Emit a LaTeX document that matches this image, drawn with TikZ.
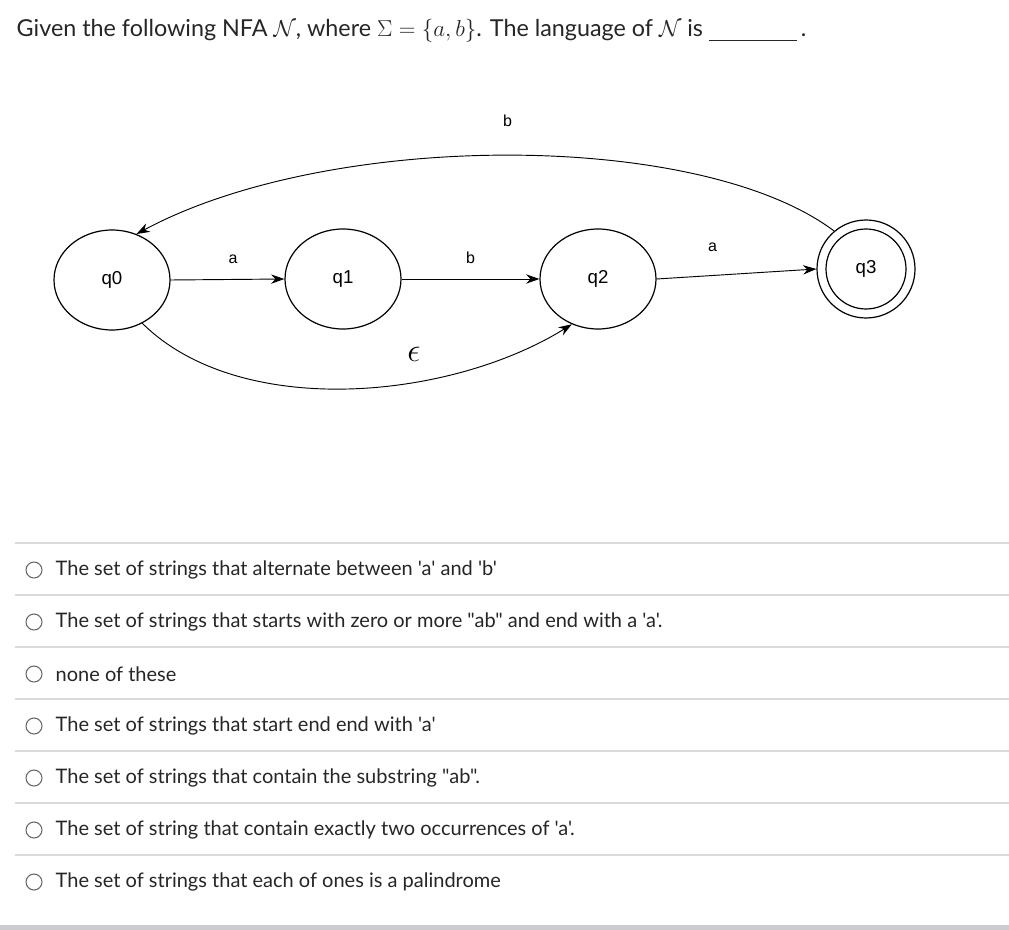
\documentclass[tikz,border=0pt]{standalone}
\usepackage{fontspec}
\setmainfont{Lato}[Ligatures=TeXOff]
\newfontfamily\diag{Liberation Sans}
\usetikzlibrary{arrows.meta,shapes.geometric}
\begin{document}
\begin{tikzpicture}[x=0.75pt,y=-0.75pt,
  st/.style={draw,ellipse,line width=0.9pt,minimum width=87pt,minimum height=75pt,font=\diag\fontsize{14}{16}\selectfont},
  sty/.style={draw,circle,line width=0.9pt,inner sep=0pt,minimum size=#1},
  tr/.style={line width=0.7pt,-{Stealth[length=10pt,width=7pt]}},
  lb/.style={font=\diag\fontsize{12}{14}\selectfont},
  opt/.style={anchor=west,font=\fontsize{15}{18}\selectfont,text=black!85},
  radio/.style={draw=black!60,circle,line width=0.8pt,minimum size=12pt,inner sep=0pt},
  sep/.style={draw=black!15,line width=0.8pt}]
\useasboundingbox (0,0) rectangle (1009,930);
\fill[white] (0,0) rectangle (1009,930);
\node[anchor=west,font=\fontsize{17.5}{20}\selectfont,text=black!85] (title) at (12,31)
 {Given the following NFA $\mathcal{N}$, where $\Sigma=\{a,b\}$. The language of $\mathcal{N}$ is \rule[-3pt]{66pt}{0.6pt}\,.};
% states
\node[st] (q0) at (112,280) {q0};
\node[st] (q1) at (343,279) {q1};
\node[st] (q2) at (598,279) {q2};
\node[sty=73.5pt] (q3) at (866,269) {};
\node[sty=60pt,font=\diag\fontsize{14}{16}\selectfont] (q3i) at (866,269) {q3};
% transitions
\draw[tr] (q0.east) -- node[lb,above=8pt,pos=0.55] (la) {a} (q1.west);
\draw[tr] (q1.east) -- node[lb,above=8pt,pos=0.5] (lb1) {b} (q2.west);
\draw[tr] (q2.east) -- node[lb,above=14pt,pos=0.35] (la2) {a} (q3.west);
\draw[tr] (q3.130) .. controls (700,130) and (330,130) .. node[lb,above=18pt,pos=0.5] (lbt) {b} (q0.62);
\draw[tr] (q0.-55) .. controls (240,420) and (450,400) .. (q2.-120);
\node[font=\fontsize{24}{26}\selectfont] (le) at (414,354) {$\epsilon$};
% options
\foreach \y in {543,595,647,699,751,803,855} \draw[sep] (15,\y) -- (1009,\y);
\foreach \y/\t [count=\i] in {
 570/{The set of strings that alternate between 'a' and 'b'},
 622/{The set of strings that starts with zero or more "ab" and end with a 'a'.},
 674/{none of these},
 726/{The set of strings that start end end with 'a'},
 778/{The set of strings that contain the substring "ab".},
 830/{The set of string that contain exactly two occurrences of 'a'.},
 882/{The set of strings that each of ones is a palindrome}} {
  \node[radio] (r\i) at (34,\y) {};
  \node[opt] (o\i) at (51,\y) {\t};
}
\fill[blue!8!black!20] (0,925) rectangle (1009,930);
\end{tikzpicture}
\end{document}
